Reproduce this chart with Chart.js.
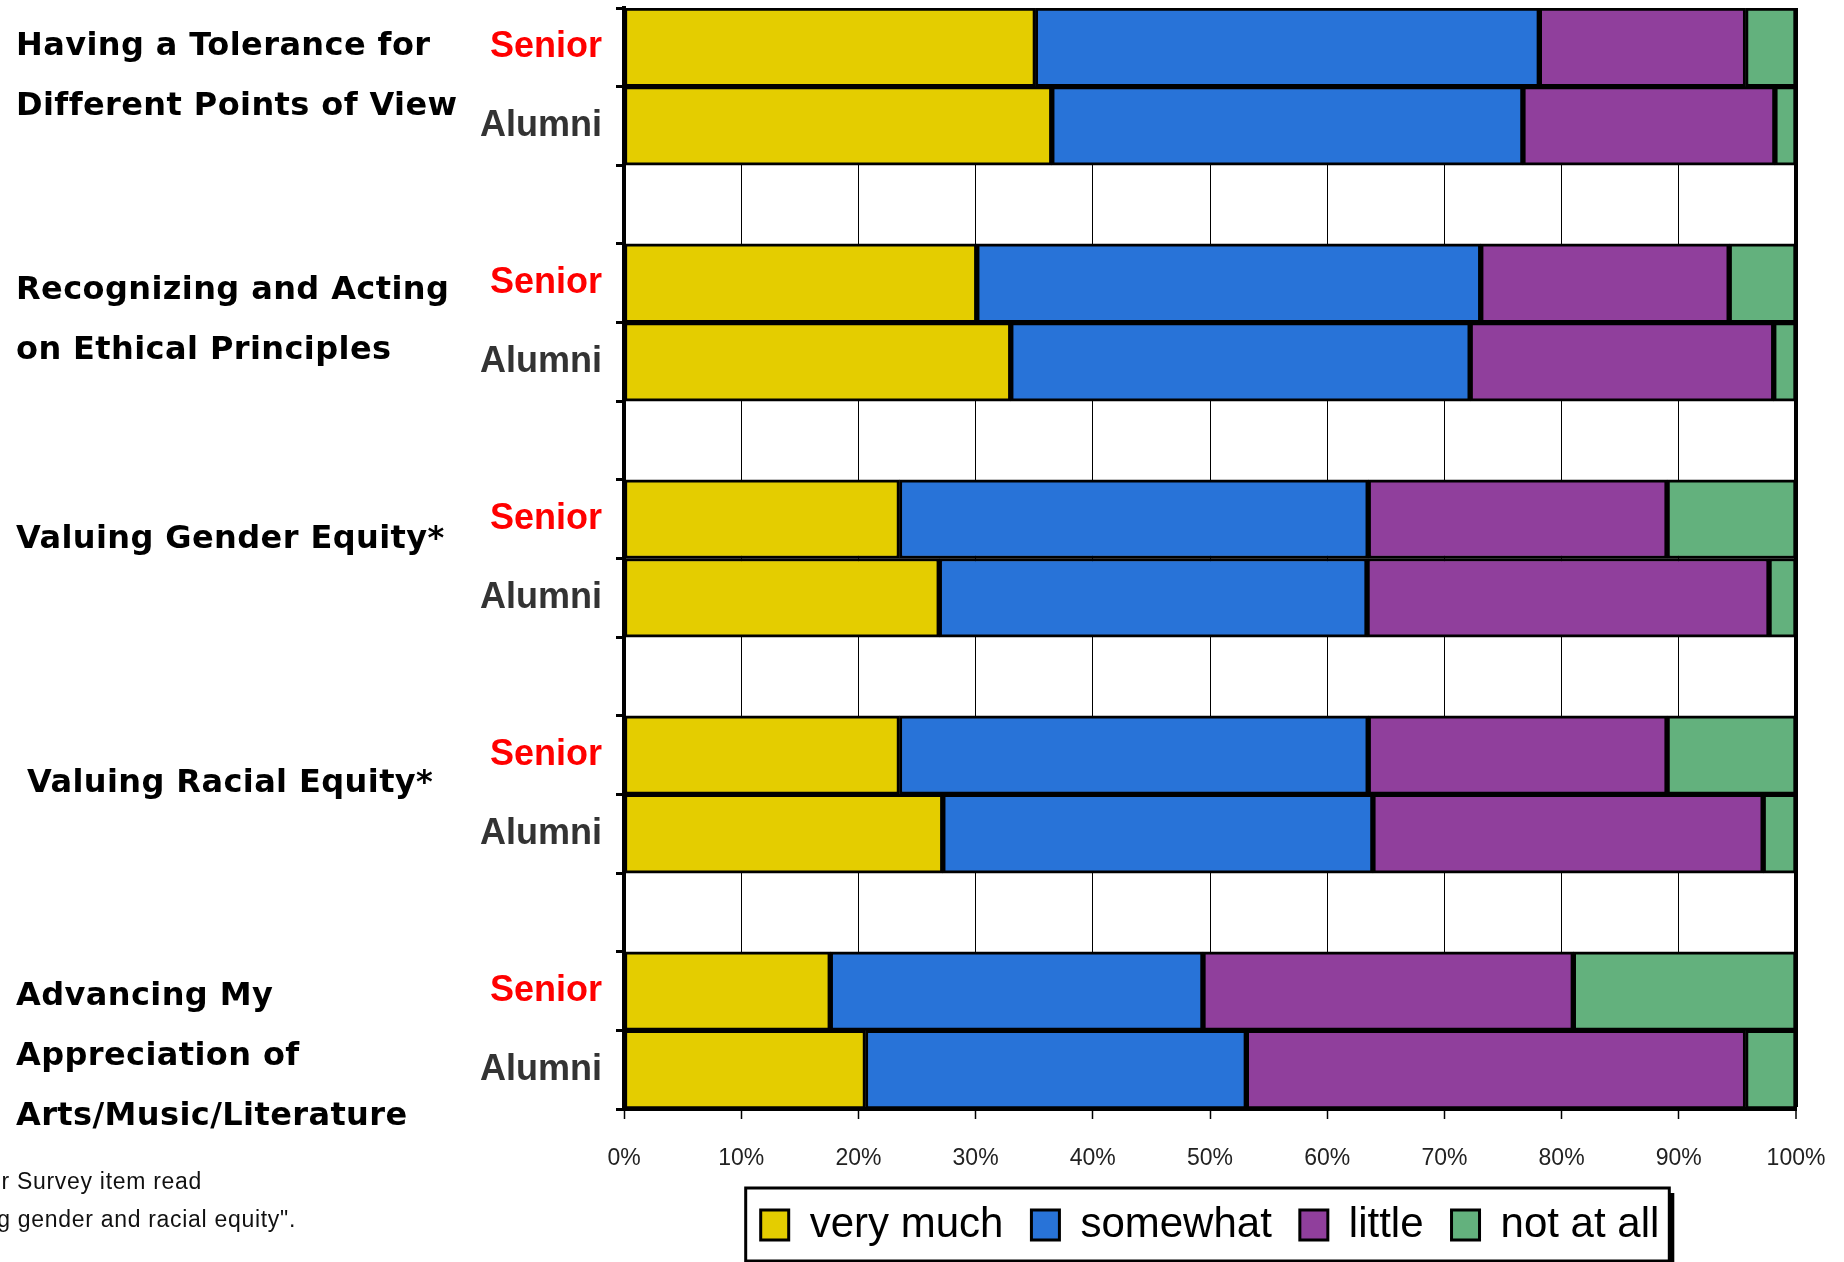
<!DOCTYPE html>
<html>
<head>
<meta charset="utf-8">
<script src="https://cdn.jsdelivr.net/npm/chart.js@4.4.1/dist/chart.umd.min.js"></script>
<style>
  html, body { margin: 0; padding: 0; background: #fff; }
  #wrap { width: 1844px; height: 1262px; position: relative; }
</style>
</head>
<body>
<div id="wrap"><canvas id="graphique"></canvas></div>
<script>
// Rows from top to bottom (empty rows separate the groups)
const rows = ["Senior", "Alumni", "", "Senior", "Alumni", "", "Senior", "Alumni", "", "Senior", "Alumni", "", "Senior", "Alumni"];

const groupLabels = [
  ["Having a Tolerance for", "Different Points of View"],
  ["Recognizing and Acting", "on Ethical Principles"],
  ["Valuing Gender Equity*"],
  ["Valuing Racial Equity*"],
  ["Advancing My", "Appreciation of", "Arts/Music/Literature"]
];

const seriesLabels = ["very much", "somewhat", "little", "not at all"];

const veryMuch = [35.1, 36.5, null, 30.1, 33.0, null, 23.5, 26.9, null, 23.5, 27.2, null, 17.6, 20.6];
const somewhat = [43.0, 40.2, null, 43.0, 39.2, null, 40.0, 36.5, null, 40.0, 36.7, null, 31.8, 32.5];
const little   = [17.6, 21.5, null, 21.2, 25.9, null, 25.5, 34.3, null, 25.5, 33.3, null, 31.6, 42.6];
const notAtAll = [4.3, 1.8, null, 5.7, 1.9, null, 11.0, 2.3, null, 11.0, 2.8, null, 19.0, 4.3];

const xTickLabels = ["0%", "10%", "20%", "30%", "40%", "50%", "60%", "70%", "80%", "90%", "100%"];

const footnote = ["*Senior Survey item read", "\"Valuing gender and racial equity\"."];

const couleurs = ["#E4CD00", "#2873D8", "#903F9C", "#63B17D"];

// where the group titles sit (baseline offset from the group's top, x)
const groupPlacement = [
  { x: 16, dy: [47, 107] },
  { x: 16, dy: [55, 115] },
  { x: 16, dy: [68] },
  { x: 27, dy: [76] },
  { x: 16, dy: [53, 113, 173] }
];

const LEGEND_PAD = 28;

const textesPlugin = {
  id: "textes",
  afterDraw(chart) {
    const ctx = chart.ctx;
    const y = chart.scales.y;
    const rowH = (y.bottom - y.top) / rows.length;
    ctx.save();
    // titres des groupes
    ctx.font = "bold 32px 'DejaVu Sans'";
    ctx.letterSpacing = "0.4px";
    ctx.fillStyle = "#000";
    ctx.textAlign = "left";
    ctx.textBaseline = "alphabetic";
    groupLabels.forEach((lines, g) => {
      const top = y.top + g * 3 * rowH;
      lines.forEach((line, i) => {
        ctx.fillText(line, groupPlacement[g].x, top + groupPlacement[g].dy[i]);
      });
    });
    // note en bas a gauche (coupee par le bord)
    ctx.letterSpacing = "0.7px";
    ctx.font = "23px 'Liberation Sans'";
    ctx.fillStyle = "#111";
    ctx.textAlign = "right";
    ctx.fillText(footnote[0], 202, 1189);
    ctx.fillText(footnote[1], 296, 1227);
    // cadre de la legende
    const boxes = chart.legend.legendHitBoxes;
    if (boxes && boxes.length) {
      const boxTop = boxes[0].top + 6;
      const l = boxes[0].left - 15;
      const r = boxes[boxes.length - 1].left + boxes[boxes.length - 1].width + 10;
      const t = boxTop - 22;
      const b = boxTop + 30 + 21;
      ctx.fillStyle = "#000";
      ctx.fillRect(l + 5, t + 5, r - l, b - t);
      ctx.fillStyle = "#fff";
      ctx.fillRect(l, t, r - l, b - t);
      ctx.lineWidth = 3;
      ctx.strokeStyle = "#000";
      ctx.strokeRect(l, t, r - l, b - t);
    }
    ctx.restore();
  }
};

// the legend is drawn again on top of its frame
const legendeDessus = {
  id: "legendeDessus",
  afterDraw(chart) {
    chart.legend.draw();
  }
};

const datasets = [veryMuch, somewhat, little, notAtAll].map((vals, i) => ({
  label: seriesLabels[i],
  data: vals,
  backgroundColor: couleurs[i],
  borderColor: "#000",
  borderWidth: 3,
  borderSkipped: false,
  barPercentage: 1,
  categoryPercentage: 1
}));

new Chart(document.querySelector("#graphique"), {
  type: "bar",
  data: { labels: rows, datasets: datasets },
  options: {
    indexAxis: "y",
    responsive: true,
    maintainAspectRatio: false,
    animation: false,
    layout: { padding: { left: 0, right: 48, top: 8, bottom: 6 } },
    scales: {
      x: {
        stacked: true,
        min: 0,
        max: 100,
        afterFit: (scale) => {
          scale.height = 95 - LEGEND_PAD;
          scale.paddingLeft = 0;
          scale.paddingRight = 0;
        },
        ticks: {
          stepSize: 10,
          padding: 26,
          color: "#222",
          font: { family: "'Liberation Sans'", size: 23 },
          callback: (value) => xTickLabels[value / 10]
        },
        grid: {
          color: "#000",
          lineWidth: (c) => (c.tick && c.tick.value === 100 ? 4 : 1),
          tickLength: 10,
          tickWidth: 1.5,
          tickColor: "#000"
        },
        border: { display: true, color: "#000", width: 4 }
      },
      y: {
        stacked: true,
        afterFit: (scale) => {
          scale.width = 624;
          scale.paddingTop = 0;
          scale.paddingBottom = 0;
        },
        ticks: {
          padding: 14,
          color: (c) => (rows[c.index] === "Senior" ? "#FF0000" : "#333333"),
          font: { family: "'Liberation Sans'", size: 36, weight: "bold" }
        },
        grid: {
          drawOnChartArea: false,
          offset: true,
          color: "#000",
          lineWidth: 3,
          tickLength: 8
        },
        border: { display: true, color: "#000", width: 4 }
      }
    },
    plugins: {
      tooltip: { enabled: false },
      legend: {
        position: "bottom",
        fullSize: false,
        labels: {
          boxWidth: 28,
          boxHeight: 30,
          padding: LEGEND_PAD,
          color: "#000",
          font: { family: "'Liberation Sans'", size: 42 }
        }
      }
    }
  },
  plugins: [textesPlugin, legendeDessus]
});
</script>
</body>
</html>
